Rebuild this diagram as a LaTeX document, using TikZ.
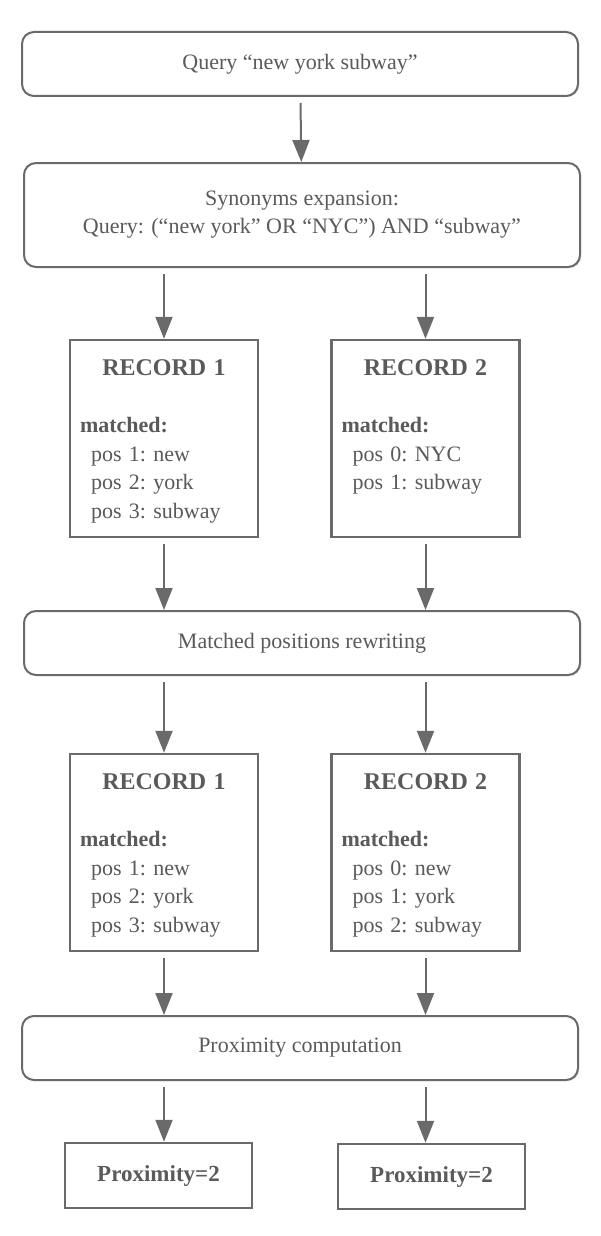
\documentclass[tikz,border=0pt]{standalone}
\usepackage{fontspec}
\setmainfont{Liberation Serif}
\usetikzlibrary{arrows.meta,shadows}

\definecolor{linegray}{HTML}{6A6A6A}
\definecolor{textgray}{HTML}{5A5A5A}

\tikzset{
  stage/.style={draw=linegray, line width=1pt, rounded corners=6pt, fill=white,
    minimum width=278pt, minimum height=32pt, align=center, text=textgray,
    font=\fontsize{11}{14}\selectfont,
    drop shadow={opacity=0.25, shadow xshift=0.6pt, shadow yshift=-0.6pt}},
  record/.style={draw=linegray, line width=1.2pt, fill=white,
    minimum width=94pt, minimum height=98.5pt, inner xsep=5pt, text width=84pt,
    text=textgray, font=\fontsize{11}{14.25}\selectfont,
    drop shadow={opacity=0.25, shadow xshift=0.6pt, shadow yshift=-0.6pt}},
  result/.style={draw=linegray, line width=1.2pt, fill=white,
    minimum width=93.5pt, minimum height=32.5pt, text=textgray,
    font=\fontsize{11.5}{14}\selectfont\bfseries,
    drop shadow={opacity=0.25, shadow xshift=0.6pt, shadow yshift=-0.6pt}},
  flow/.style={draw=linegray, line width=1pt, shorten <=3pt,
    -{Triangle[width=8.5pt,length=11pt]}},
}

\newcommand{\recordtext}[4]{\frenchspacing
  {\centering\fontsize{12}{14.25}\selectfont\bfseries\rule{0pt}{13pt}#1\par}
  \mbox{}\\ \textbf{matched:}\\ \hspace*{5.5pt}#2\\ \hspace*{5.5pt}#3\\
  \hspace*{5.5pt}#4\strut}

\begin{document}
\begin{tikzpicture}[x=0.5pt, y=-0.5pt]
\useasboundingbox (0,0) rectangle (600,1236);

% Query and expansion
\node[stage] (query) at (300,64) {Query “new york subway\symbol{34}};
\node[stage, minimum height=52pt] (syn) at (302,215)
  {Synonyms expansion:\\Query: (“new york” OR “NYC”) AND “subway”};

% First records
\node[record] (rec1) at (164,438.5)
  {\recordtext{RECORD 1}{pos 1: new}{pos 2: york}{pos 3: subway}};
\node[record] (rec2) at (425.5,438.5)
  {\recordtext{RECORD 2}{pos 0: NYC}{pos 1: subway}{\mbox{}}};

% Rewriting
\node[stage] (rewrite) at (302,643) {Matched positions rewriting};

% Rewritten records
\node[record] (rec1b) at (164,852.5)
  {\recordtext{RECORD 1}{pos 1: new}{pos 2: york}{pos 3: subway}};
\node[record] (rec2b) at (425.5,852.5)
  {\recordtext{RECORD 2}{pos 0: new}{pos 1: york}{pos 2: subway}};

% Proximity
\node[stage] (prox) at (300,1048) {Proximity computation};
\node[result] (res1) at (158.5,1175.5) {Proximity=2};
\node[result] (res2) at (431.5,1176.5) {Proximity=2};

% Arrows
\draw[flow] (query) -- (syn);
\draw[flow] (syn.south -| rec1) -- (rec1);
\draw[flow] (syn.south -| rec2) -- (rec2);
\draw[flow] (rec1) -- (rec1 |- rewrite.north);
\draw[flow] (rec2) -- (rec2 |- rewrite.north);
\draw[flow] (rewrite.south -| rec1b) -- (rec1b);
\draw[flow] (rewrite.south -| rec2b) -- (rec2b);
\draw[flow] (rec1b) -- (rec1b |- prox.north);
\draw[flow] (rec2b) -- (rec2b |- prox.north);
\draw[flow] (prox.south -| rec1b) -- (rec1b |- res1.north);
\draw[flow] (prox.south -| rec2b) -- (rec2b |- res2.north);

\end{tikzpicture}
\end{document}
